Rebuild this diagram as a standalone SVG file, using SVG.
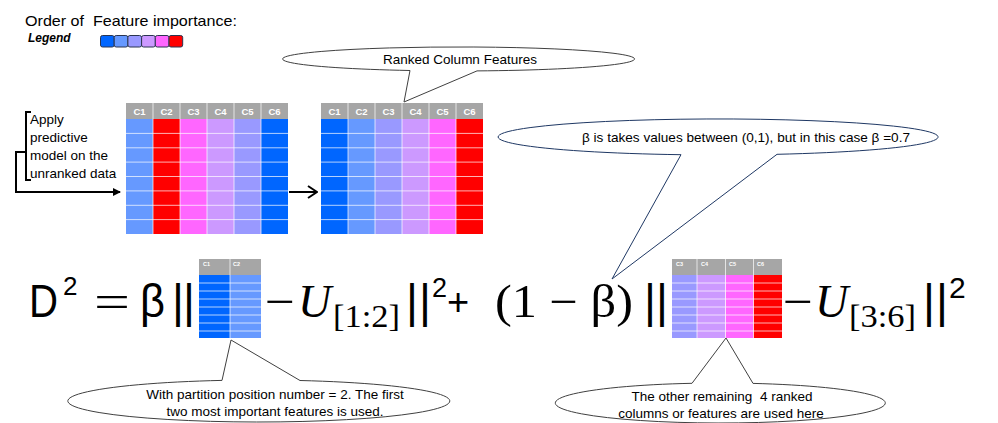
<svg xmlns="http://www.w3.org/2000/svg" width="998" height="423" viewBox="0 0 998 423">
<style>
.t{font-family:"Liberation Sans",Arial,sans-serif;fill:#000}
.cal{font-family:"Liberation Sans",Arial,sans-serif;font-size:13.5px;fill:#000}
.hd{font-family:"Liberation Sans",Arial,sans-serif;font-size:9.5px;font-weight:bold;fill:#fff;text-anchor:middle}
.hs{font-family:"Liberation Sans",Arial,sans-serif;font-size:5.5px;font-weight:bold;fill:#fff}
.m{font-family:"Liberation Serif","Times New Roman",serif;fill:#000}
.s{font-family:"Liberation Sans",Arial,sans-serif;fill:#000}
.rl{stroke:#fff;stroke-width:1;stroke-opacity:0.7;fill:none}
.hdr{fill:#a6a6a6}
.co{fill:#fff;stroke:#404040;stroke-width:1}
.cob{fill:#fff;stroke:#1f3864;stroke-width:1}
.ln{fill:none;stroke:#000;stroke-width:2}
.lg{stroke:#2a3550;stroke-width:1}
</style>
<defs>
<marker id="fa" markerWidth="8" markerHeight="8" refX="7" refY="4" orient="auto" markerUnits="userSpaceOnUse">
<path d="M0,0 L8,4 L0,8 Z" fill="#000"/>
</marker>
<marker id="oa" markerWidth="12" markerHeight="14" refX="11" refY="7" orient="auto" markerUnits="userSpaceOnUse">
<path d="M2,1 L11,7 L2,13" fill="none" stroke="#000" stroke-width="2"/>
</marker>
</defs>

<g id="legend">
<text class="t" x="25" y="26" font-size="15" textLength="212" lengthAdjust="spacingAndGlyphs" xml:space="preserve">Order of  Feature importance:</text>
<text class="t" x="28" y="42" font-size="12" font-weight="bold" font-style="italic">Legend</text>
<rect class="lg" x="100.5" y="35.5" width="13.7" height="11.5" rx="2" fill="#0066ff"/>
<rect class="lg" x="114.2" y="35.5" width="13.7" height="11.5" rx="2" fill="#6699ff"/>
<rect class="lg" x="127.9" y="35.5" width="13.7" height="11.5" rx="2" fill="#9999ff"/>
<rect class="lg" x="141.6" y="35.5" width="13.7" height="11.5" rx="2" fill="#cc99ff"/>
<rect class="lg" x="155.3" y="35.5" width="13.7" height="11.5" rx="2" fill="#ff66ff"/>
<rect class="lg" x="169" y="35.5" width="13.7" height="11.5" rx="2" fill="#ff0000"/>
</g>

<g id="apply-label">
<text class="cal" x="30" y="124" font-size="14">Apply</text>
<text class="cal" x="30" y="142" font-size="14">predictive</text>
<text class="cal" x="30" y="160" font-size="14">model on the</text>
<text class="cal" x="30" y="178" font-size="14">unranked data</text>
</g>

<g id="unranked-table">
<rect class="hdr" x="126" y="103" width="162" height="16"/>
<rect x="126" y="119" width="27" height="115" fill="#6699ff"/>
<rect x="153" y="119" width="27" height="115" fill="#ff0000"/>
<rect x="180" y="119" width="27" height="115" fill="#ff66ff"/>
<rect x="207" y="119" width="27" height="115" fill="#cc99ff"/>
<rect x="234" y="119" width="27" height="115" fill="#9999ff"/>
<rect x="261" y="119" width="27" height="115" fill="#0066ff"/>
<path class="rl" d="M126,133.4H288M126,147.8H288M126,162.1H288M126,176.5H288M126,190.9H288M126,205.3H288M126,219.6H288M153,103V234M180,103V234M207,103V234M234,103V234M261,103V234"/>
<text class="hd" x="139.5" y="115">C1</text>
<text class="hd" x="166.5" y="115">C2</text>
<text class="hd" x="193.5" y="115">C3</text>
<text class="hd" x="220.5" y="115">C4</text>
<text class="hd" x="247.5" y="115">C5</text>
<text class="hd" x="274.5" y="115">C6</text>
</g>

<g id="ranked-table">
<rect class="hdr" x="321" y="103" width="162" height="16"/>
<rect x="321" y="119" width="27" height="115" fill="#0066ff"/>
<rect x="348" y="119" width="27" height="115" fill="#6699ff"/>
<rect x="375" y="119" width="27" height="115" fill="#9999ff"/>
<rect x="402" y="119" width="27" height="115" fill="#cc99ff"/>
<rect x="429" y="119" width="27" height="115" fill="#ff66ff"/>
<rect x="456" y="119" width="27" height="115" fill="#ff0000"/>
<path class="rl" d="M321,133.4H483M321,147.8H483M321,162.1H483M321,176.5H483M321,190.9H483M321,205.3H483M321,219.6H483M348,103V234M375,103V234M402,103V234M429,103V234M456,103V234"/>
<text class="hd" x="334.5" y="115">C1</text>
<text class="hd" x="361.5" y="115">C2</text>
<text class="hd" x="388.5" y="115">C3</text>
<text class="hd" x="415.5" y="115">C4</text>
<text class="hd" x="442.5" y="115">C5</text>
<text class="hd" x="469.5" y="115">C6</text>
</g>

<g id="callout-ranked">
<path class="co" d="M410,70.5 L404,102 L477,70.9 A176,12 0 1 0 410,70.5 Z"/>
<text class="cal" x="460" y="64" text-anchor="middle">Ranked Column Features</text>
</g>

<g id="callout-beta">
<path class="cob" d="M681,154.7 L612,279 L777,154.3 A220,18 0 1 0 681,154.7 Z"/>
<text class="cal" x="582" y="142" textLength="328" lengthAdjust="spacingAndGlyphs">β is takes values between (0,1), but in this case β =0.7</text>
</g>

<g id="formula">
<text class="s" x="29" y="317" font-size="46" textLength="29" lengthAdjust="spacingAndGlyphs">D</text>
<text class="s" x="63" y="295" font-size="26">2</text>
<text class="m" x="94" y="317" font-size="46" textLength="36" lengthAdjust="spacingAndGlyphs">=</text>
<text class="s" x="140" y="317" font-size="46" textLength="25" lengthAdjust="spacingAndGlyphs">β</text>
<text class="s" x="172" y="317" font-size="46" textLength="23">||</text>
<text class="m" x="265" y="317" font-size="46" textLength="30" lengthAdjust="spacingAndGlyphs">−</text>
<text class="m" x="298" y="317" font-size="46" font-style="italic">U</text>
<text class="m" x="333" y="327" font-size="32" textLength="67" lengthAdjust="spacingAndGlyphs">[1:2]</text>
<text class="s" x="406" y="317" font-size="46" textLength="25">||</text>
<text class="s" x="432" y="297" font-size="27">2</text>
<text class="s" x="447" y="315" font-size="38">+</text>
<text class="m" x="495" y="317" font-size="46" textLength="138" lengthAdjust="spacingAndGlyphs">(1 − β)</text>
<text class="s" x="644" y="317" font-size="46" textLength="24">||</text>
<text class="m" x="783" y="317" font-size="46" textLength="30" lengthAdjust="spacingAndGlyphs">−</text>
<text class="m" x="815" y="317" font-size="46" font-style="italic">U</text>
<text class="m" x="849" y="327" font-size="32" textLength="67" lengthAdjust="spacingAndGlyphs">[3:6]</text>
<text class="s" x="923" y="317" font-size="46" textLength="25">||</text>
<text class="s" x="949" y="298" font-size="30">2</text>
</g>

<g id="partition-table-1">
<rect class="hdr" x="199" y="259" width="62" height="16"/>
<rect x="199" y="275" width="31" height="63" fill="#0066ff"/>
<rect x="230" y="275" width="31" height="63" fill="#6699ff"/>
<path class="rl" d="M199,283H261M199,291H261M199,299H261M199,307H261M199,315H261M199,323H261M199,331H261M230,259V338"/>
<text class="hs" x="203" y="266">C1</text>
<text class="hs" x="233" y="266">C2</text>
</g>

<g id="partition-table-2">
<rect class="hdr" x="672" y="259" width="110" height="16"/>
<rect x="672" y="275" width="25" height="63" fill="#9999ff"/>
<rect x="697" y="275" width="28.5" height="63" fill="#cc99ff"/>
<rect x="725.5" y="275" width="28" height="63" fill="#ff66ff"/>
<rect x="753.5" y="275" width="28.5" height="63" fill="#ff0000"/>
<path class="rl" d="M672,283H782M672,291H782M672,299H782M672,307H782M672,315H782M672,323H782M672,331H782M697,259V338M725.5,259V338M753.5,259V338"/>
<text class="hs" x="676" y="266">C3</text>
<text class="hs" x="701" y="266">C4</text>
<text class="hs" x="729" y="266">C5</text>
<text class="hs" x="757" y="266">C6</text>
</g>

<g id="callout-partition">
<path class="co" d="M222,380.4 L231,340 L300,380.5 A191,21 0 1 1 222,380.4 Z"/>
<text class="cal" x="275" y="399" text-anchor="middle">With partition position number = 2. The first</text>
<text class="cal" x="275" y="416" text-anchor="middle">two most important features is used.</text>
</g>

<g id="callout-remaining">
<path class="co" d="M692,383.3 L726,338 L753,383.4 A165,20 0 1 1 692,383.3 Z"/>
<text class="cal" x="722" y="401" text-anchor="middle" xml:space="preserve">The other remaining  4 ranked</text>
<text class="cal" x="721" y="418" text-anchor="middle">columns or features are used here</text>
</g>

<g id="connectors">
<path class="ln" d="M31,112 H26 V180 H31 M26,152 H16 V192 H120" marker-end="url(#fa)"/>
<path class="ln" d="M289,192 H317" marker-end="url(#oa)"/>
</g>
</svg>
